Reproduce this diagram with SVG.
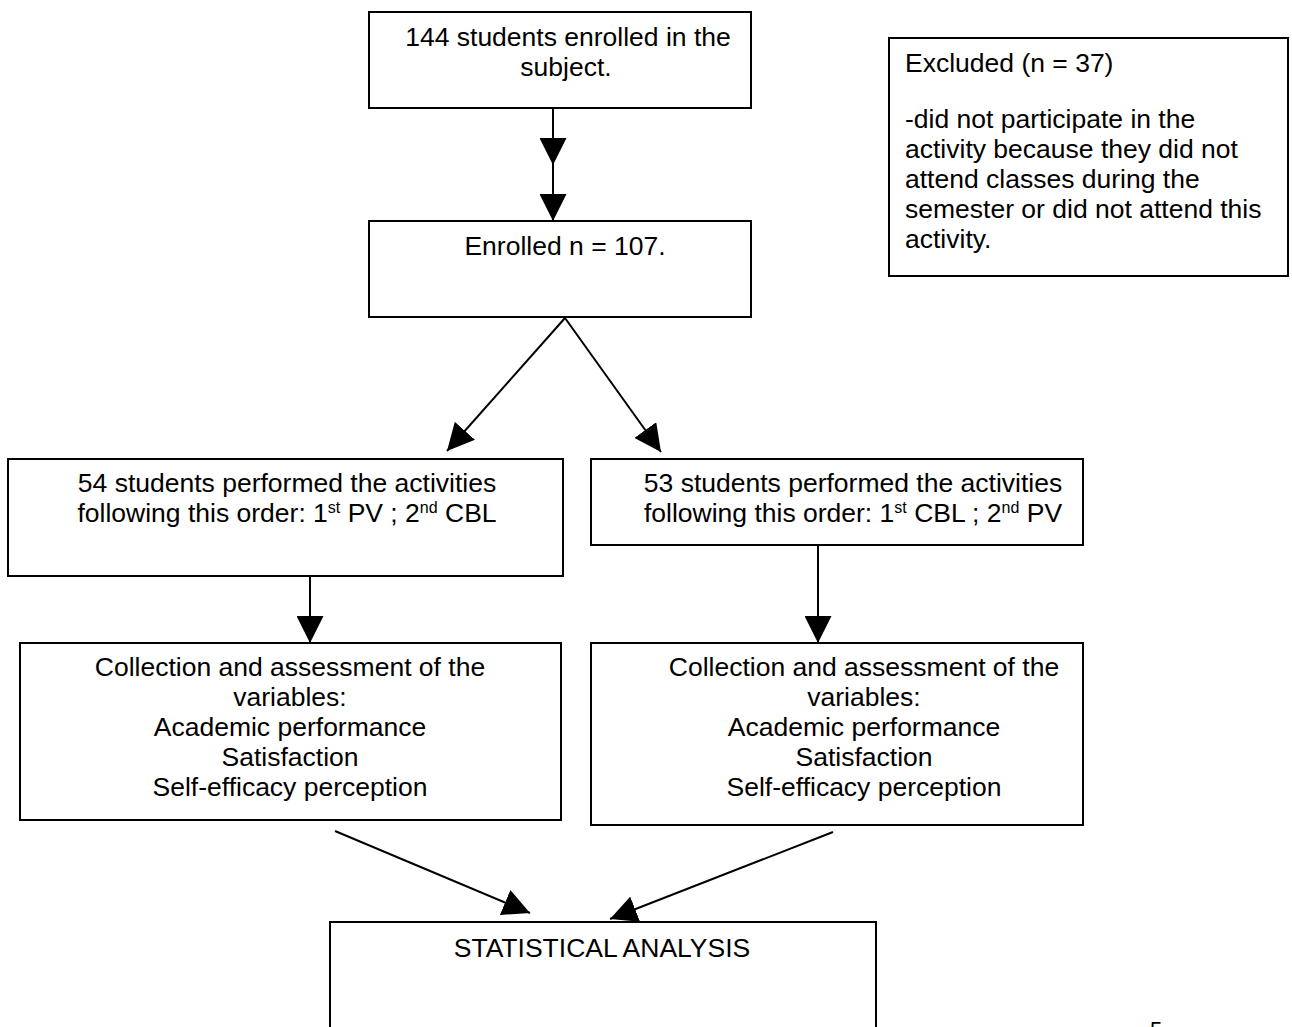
<svg xmlns="http://www.w3.org/2000/svg" width="1292" height="1027" viewBox="0 0 1292 1027">
<style>
.box{fill:#fff;stroke:#000;stroke-width:2}
text{font-family:"Liberation Sans",Arial,sans-serif;font-size:26.5px;fill:#000}
.c{text-anchor:middle}
.sup{font-size:16px}
.con{fill:none;stroke:#000;stroke-width:2}
</style>
<defs>
<marker id="ah" markerUnits="userSpaceOnUse" markerWidth="27" markerHeight="27" refX="26" refY="13" orient="auto" viewBox="0 0 26 26">
<path d="M0,0 L26,13 L0,26 z" fill="#000"/>
</marker>
</defs>
<rect width="1292" height="1027" fill="#fff"/>
<g id="n1"><rect class="box" x="369" y="12" width="382" height="96"/>
<text class="c" x="568" y="46">144 students enrolled in the</text>
<text class="c" x="566" y="76">subject.</text></g>
<g id="n2"><rect class="box" x="369" y="221" width="382" height="96"/>
<text class="c" x="565" y="255">Enrolled n = 107.</text></g>
<g id="n3"><rect class="box" x="889" y="38" width="399" height="238"/>
<text x="905" y="72">Excluded (n = 37)</text>
<text x="905" y="128">-did not participate in the</text>
<text x="905" y="158">activity because they did not</text>
<text x="905" y="188">attend classes during the</text>
<text x="905" y="218">semester or did not attend this</text>
<text x="905" y="248">activity.</text></g>
<g id="n4"><rect class="box" x="8" y="459" width="555" height="117"/>
<text class="c" x="287" y="492">54 students performed the activities</text>
<text class="c" x="287" y="522">following this order: 1<tspan class="sup" dy="-9">st</tspan><tspan dy="9"> PV ; 2</tspan><tspan class="sup" dy="-9">nd</tspan><tspan dy="9"> CBL</tspan></text></g>
<g id="n5"><rect class="box" x="591" y="459" width="492" height="86"/>
<text class="c" x="853" y="492">53 students performed the activities</text>
<text class="c" x="853" y="522">following this order: 1<tspan class="sup" dy="-9">st</tspan><tspan dy="9"> CBL ; 2</tspan><tspan class="sup" dy="-9">nd</tspan><tspan dy="9"> PV</tspan></text></g>
<g id="n6"><rect class="box" x="20" y="643" width="541" height="177"/>
<text class="c" x="290" y="676">Collection and assessment of the</text>
<text class="c" x="290" y="706">variables:</text>
<text class="c" x="290" y="736">Academic performance</text>
<text class="c" x="290" y="766">Satisfaction</text>
<text class="c" x="290" y="796">Self-efficacy perception</text></g>
<g id="n7"><rect class="box" x="591" y="643" width="492" height="182"/>
<text class="c" x="864" y="676">Collection and assessment of the</text>
<text class="c" x="864" y="706">variables:</text>
<text class="c" x="864" y="736">Academic performance</text>
<text class="c" x="864" y="766">Satisfaction</text>
<text class="c" x="864" y="796">Self-efficacy perception</text></g>
<g id="n8"><rect class="box" x="330" y="922" width="546" height="120"/>
<text class="c" x="602" y="957">STATISTICAL ANALYSIS</text></g>
<g id="connectors">
<polyline class="con" points="553,108 553,165 553,221" marker-mid="url(#ah)" marker-end="url(#ah)"/>
<line class="con" x1="565" y1="318" x2="447" y2="451" marker-end="url(#ah)"/>
<line class="con" x1="565" y1="318" x2="661" y2="452" marker-end="url(#ah)"/>
<line class="con" x1="310" y1="576" x2="310" y2="643" marker-end="url(#ah)"/>
<line class="con" x1="818" y1="545" x2="818" y2="643" marker-end="url(#ah)"/>
<line class="con" x1="335" y1="831" x2="530" y2="913" marker-end="url(#ah)"/>
<line class="con" x1="833" y1="832" x2="610" y2="919" marker-end="url(#ah)"/>
</g>
<text x="1150" y="1037" style="font-size:22px">5</text>
</svg>
